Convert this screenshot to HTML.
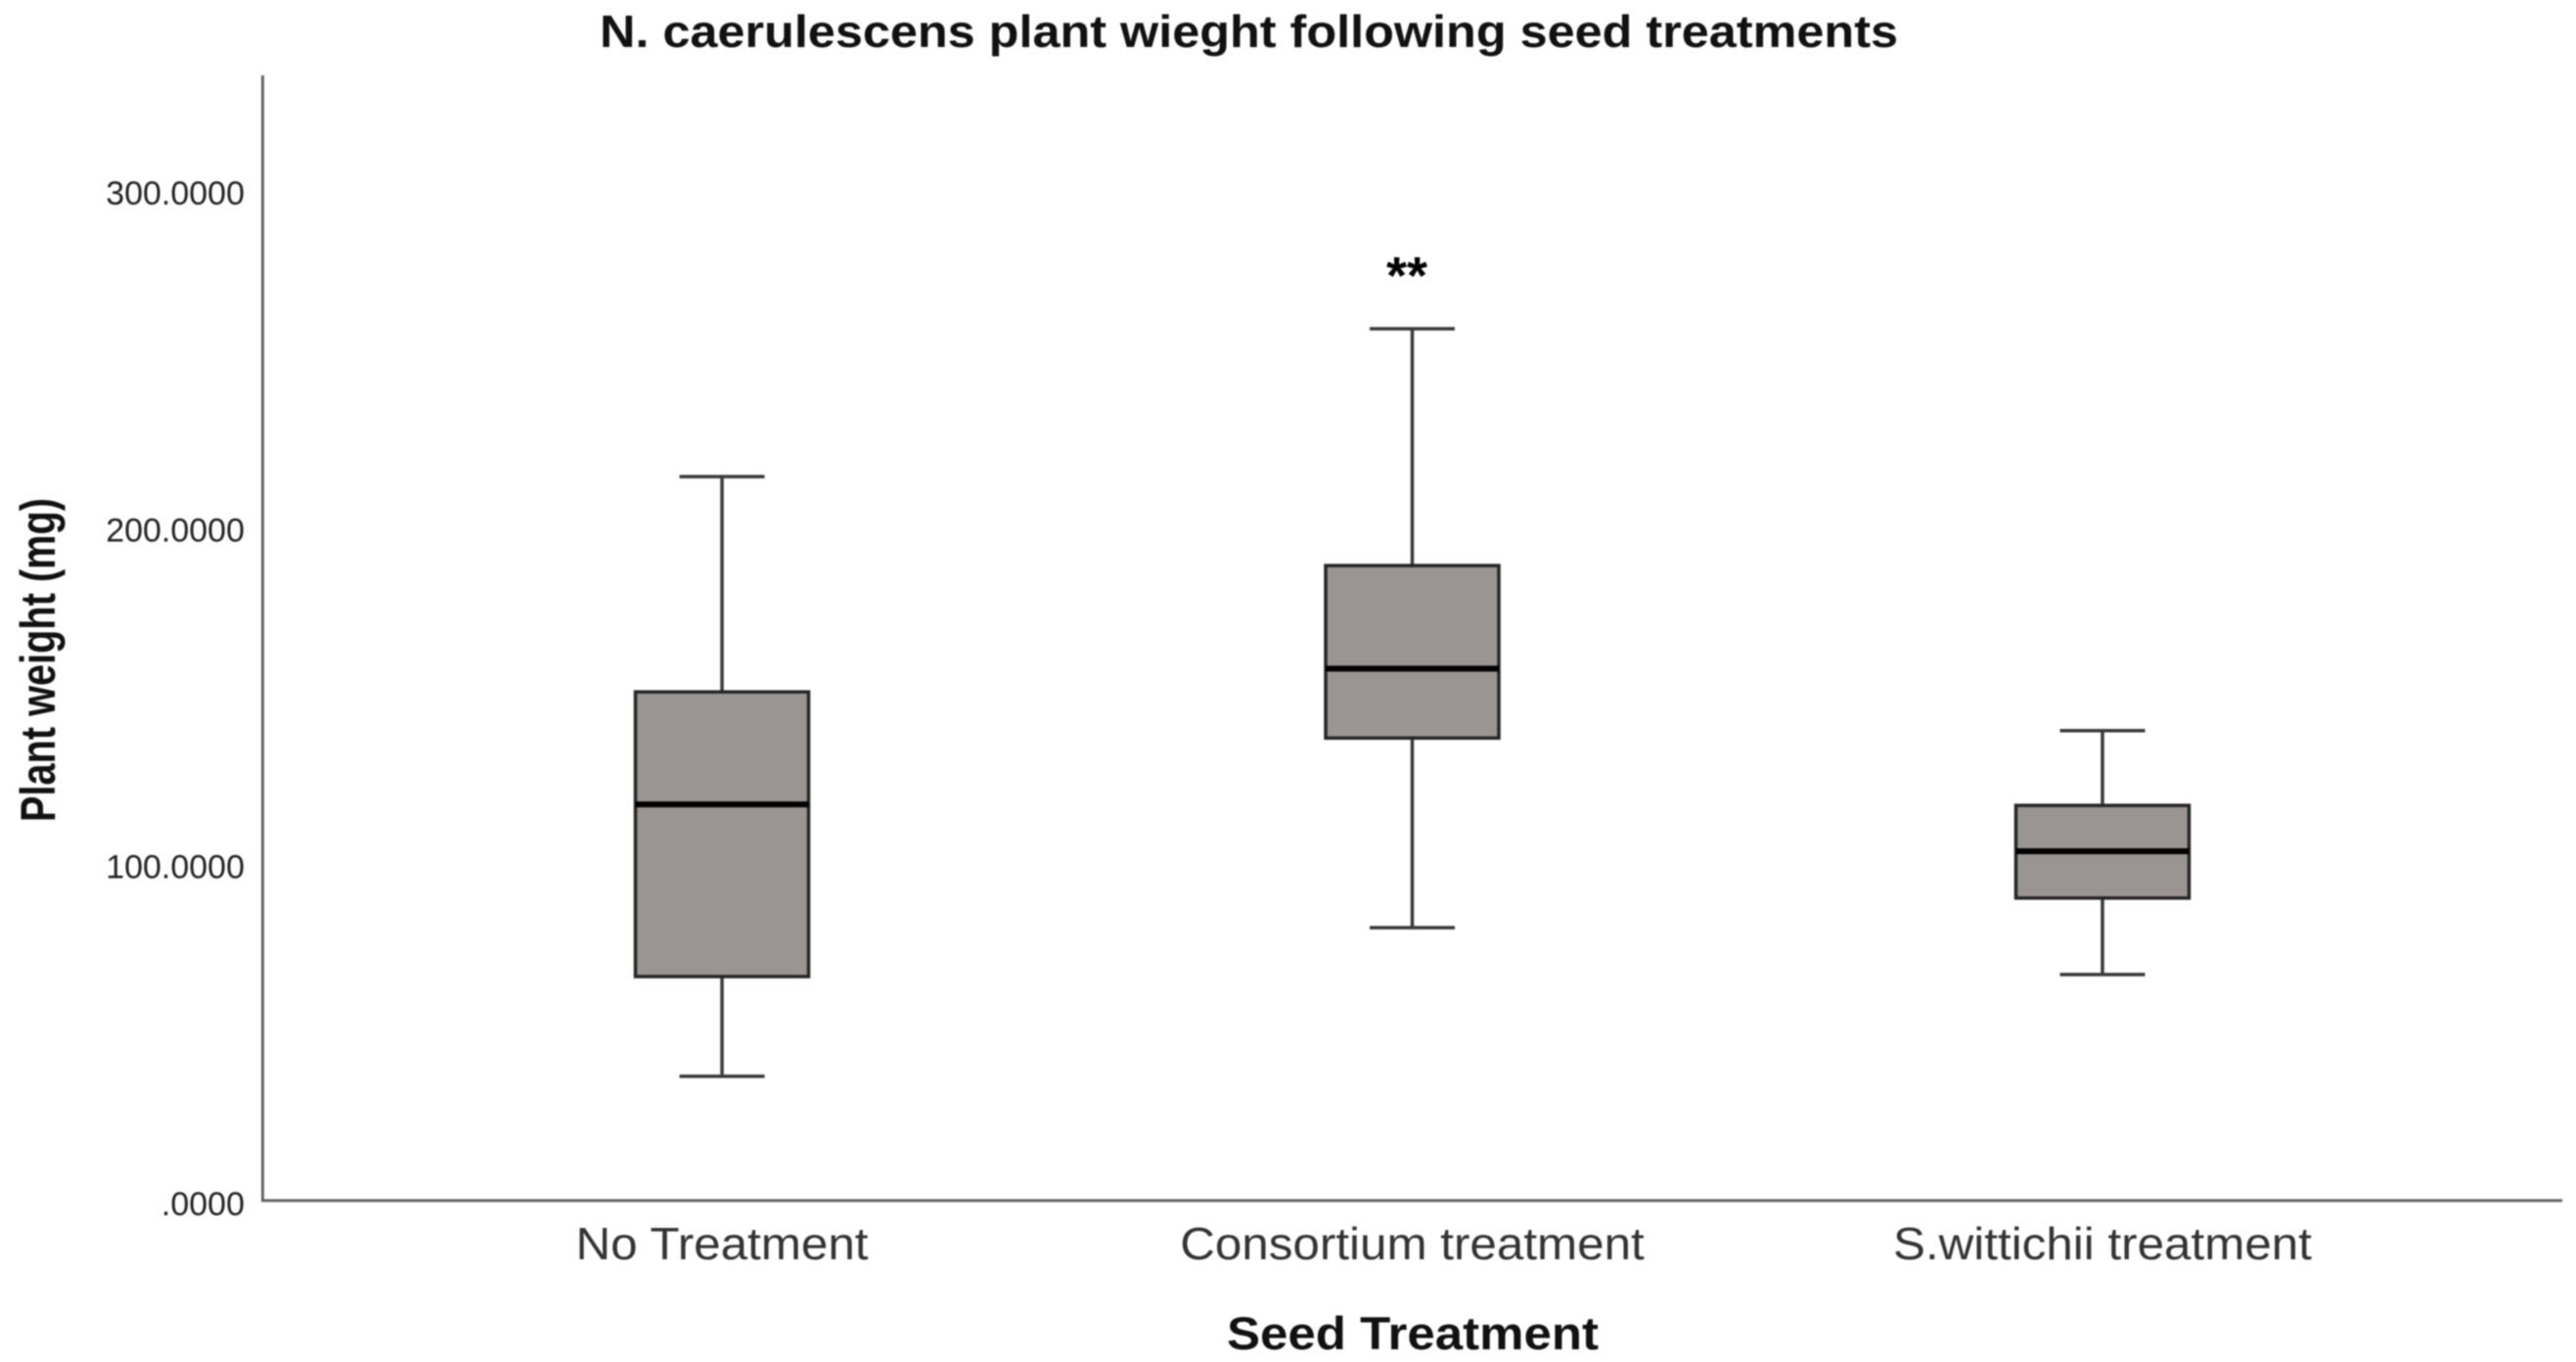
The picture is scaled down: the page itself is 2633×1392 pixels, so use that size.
<!DOCTYPE html>
<html lang="en">
<head>
<meta charset="utf-8">
<title>N. caerulescens plant wieght following seed treatments</title>
<style>
html,body{margin:0;padding:0;background:#fff;width:2633px;height:1392px;overflow:hidden}
svg{display:block;filter:blur(0.7px)}
text{font-family:"Liberation Sans",sans-serif}
</style>
</head>
<body>
<svg id="chart" xmlns="http://www.w3.org/2000/svg" width="2633" height="1392" viewBox="0 0 2633 1392">
  <rect x="0" y="0" width="2633" height="1392" fill="#ffffff"/>
  <text x="1276.5" y="48" font-size="46" font-weight="700" fill="#111" text-anchor="middle" textLength="1327" lengthAdjust="spacingAndGlyphs">N. caerulescens plant wieght following seed treatments</text>
  <text transform="translate(56,674.5) rotate(-90)" font-size="50" font-weight="700" fill="#111" text-anchor="middle" textLength="331" lengthAdjust="spacingAndGlyphs">Plant weight (mg)</text>
  <text x="1444" y="1379" font-size="47" font-weight="700" fill="#111" text-anchor="middle" textLength="380" lengthAdjust="spacingAndGlyphs">Seed Treatment</text>
  <line x1="268.5" y1="77" x2="268.5" y2="1228" stroke="#666" stroke-width="3"/>
  <line x1="267" y1="1227" x2="2619" y2="1227" stroke="#666" stroke-width="3"/>
  <g id="y-ticks"></g>
  <g id="x-ticks"></g>
  <g id="boxes"></g>
  <text x="1438" y="300" font-size="54" font-weight="700" fill="#000" text-anchor="middle">**</text>
</svg>
<script>
const categories = ["No Treatment", "Consortium treatment", "S.wittichii treatment"];
const whiskerHigh = [214.6, 258.5, 139.2];
const upperQuartile = [150.7, 188.2, 117.0];
const medianValue = [117.3, 157.6, 103.4];
const lowerQuartile = [66.2, 137.0, 89.5];
const whiskerLow = [36.6, 80.7, 66.8];
const tickValues = [0, 100, 200, 300];
const tickLabels = [".0000", "100.0000", "200.0000", "300.0000"];

const svgNS = "http://www.w3.org/2000/svg";
const yScale = function (v) { return 1226 - 3.443 * v; };
const xScale = function (i) { return 738 + 705.5 * i; };
const boxHalf = 88.5;
const capHalf = 43.5;

function make(tag, attrs, parent) {
  const el = document.createElementNS(svgNS, tag);
  for (const k in attrs) el.setAttribute(k, attrs[k]);
  parent.appendChild(el);
  return el;
}

const yTicks = document.getElementById("y-ticks");
tickValues.forEach(function (v, i) {
  const el = make("text", { x: 250, y: yScale(v) + 16, "font-size": 34, fill: "#222", "text-anchor": "end" }, yTicks);
  
  
  el.textContent = tickLabels[i];
});

const xTicks = document.getElementById("x-ticks");
categories.forEach(function (c, i) {
  const el = make("text", { x: xScale(i), y: 1287, "font-size": 46, fill: "#333", "text-anchor": "middle", lengthAdjust: "spacingAndGlyphs" }, xTicks);
  
  
  el.textContent = c;
  el.setAttribute('textLength', el.getComputedTextLength() * 1.073);
});

const boxes = document.getElementById("boxes");
categories.forEach(function (c, i) {
  const cx = xScale(i);
  const g = make("g", {}, boxes);
  
  

  const stem = make("line", { x1: cx, x2: cx, y1: yScale(whiskerHigh[i]), y2: yScale(whiskerLow[i]), stroke: "#3a3a3a", "stroke-width": 3.5 }, g);
  
  

  const capTop = make("line", { x1: cx - capHalf, x2: cx + capHalf, y1: yScale(whiskerHigh[i]), y2: yScale(whiskerHigh[i]), stroke: "#3a3a3a", "stroke-width": 3.5 }, g);
  
  

  const capBottom = make("line", { x1: cx - capHalf, x2: cx + capHalf, y1: yScale(whiskerLow[i]), y2: yScale(whiskerLow[i]), stroke: "#3a3a3a", "stroke-width": 3.5 }, g);
  
  

  const box = make("rect", { x: cx - boxHalf, width: 2 * boxHalf, y: yScale(upperQuartile[i]), height: yScale(lowerQuartile[i]) - yScale(upperQuartile[i]), fill: "#9a9492", stroke: "#262626", "stroke-width": 3.5 }, g);
  
  

  const med = make("line", { x1: cx - boxHalf, x2: cx + boxHalf, y1: yScale(medianValue[i]), y2: yScale(medianValue[i]), stroke: "#000", "stroke-width": 6 }, g);
  
  
});
</script>
</body>
</html>
